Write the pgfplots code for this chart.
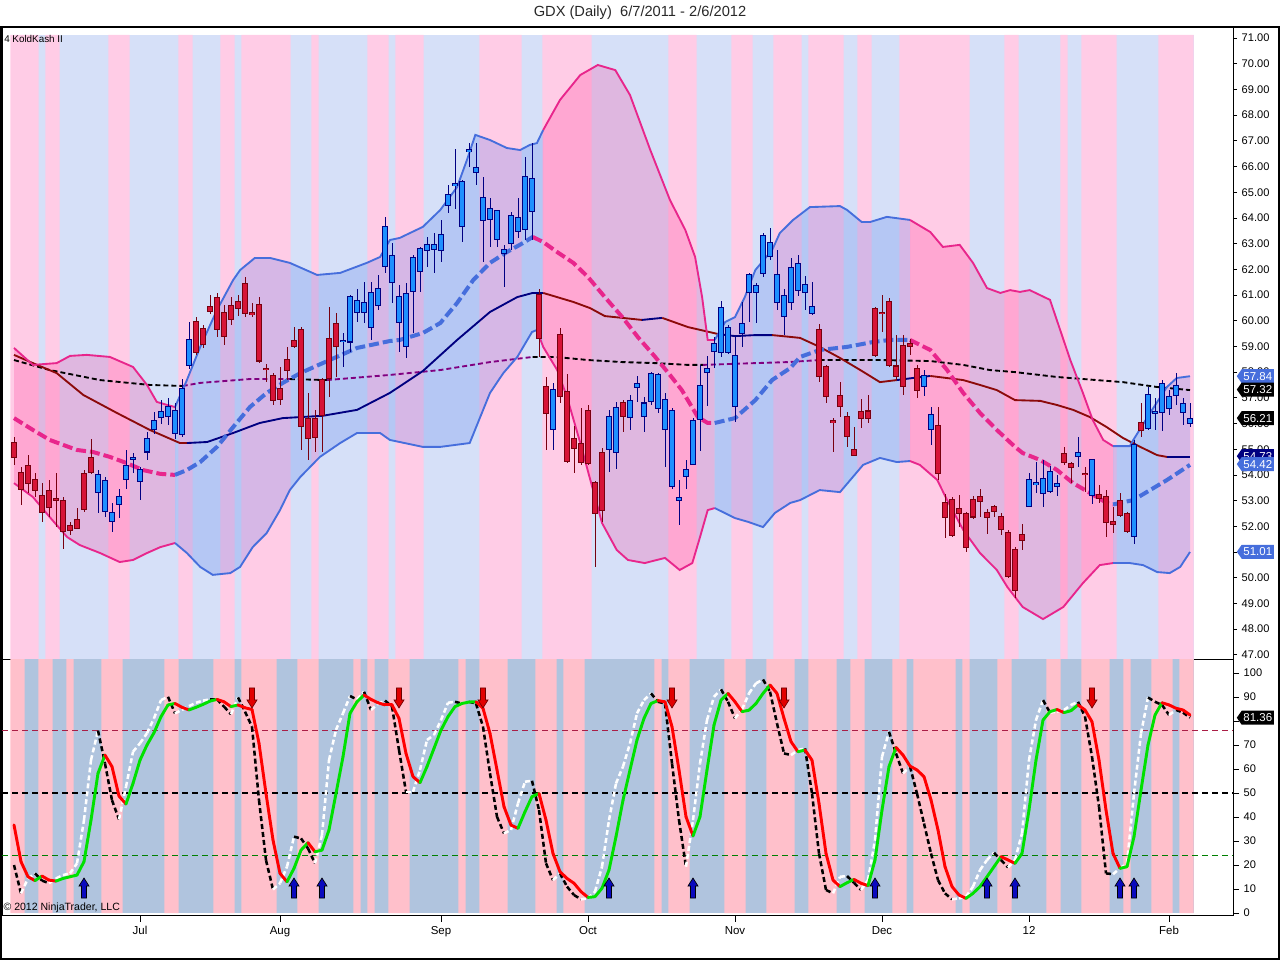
\documentclass[border=0pt]{standalone}
\usepackage{pgfplots}
\pgfplotsset{compat=1.18}
\usepackage{pgfplotstable}
\usepgfplotslibrary{fillbetween}
\usetikzlibrary{shapes.symbols}
\usepackage{fontspec}
\setmainfont{Liberation Sans}

\definecolor{upink}{RGB}{255,204,230}
\definecolor{ublue}{RGB}{214,224,248}
\definecolor{lpink}{RGB}{255,192,203}
\definecolor{lblue}{RGB}{176,196,222}
\definecolor{bpink}{RGB}{232,38,140}
\definecolor{bblue}{RGB}{70,110,220}
\definecolor{fpink}{RGB}{255,40,140}
\definecolor{fblue}{RGB}{50,100,230}
\definecolor{madred}{RGB}{140,10,10}
\definecolor{manavy}{RGB}{0,0,128}
\definecolor{mapurple}{RGB}{128,0,128}
\definecolor{cred}{RGB}{215,20,55}
\definecolor{credo}{RGB}{120,0,15}
\definecolor{cblue}{RGB}{30,144,255}
\definecolor{cblueo}{RGB}{0,0,130}
\definecolor{refred}{RGB}{170,30,70}
\definecolor{refgreen}{RGB}{0,128,0}

\pgfdeclareplotmark{uparr}{%
  \pgfpathmoveto{\pgfqpoint{-1.9pt}{0pt}}%
  \pgfpathlineto{\pgfqpoint{1.9pt}{0pt}}%
  \pgfpathlineto{\pgfqpoint{1.9pt}{9pt}}%
  \pgfpathlineto{\pgfqpoint{3.75pt}{9pt}}%
  \pgfpathlineto{\pgfqpoint{0pt}{15pt}}%
  \pgfpathlineto{\pgfqpoint{-3.75pt}{9pt}}%
  \pgfpathlineto{\pgfqpoint{-1.9pt}{9pt}}%
  \pgfpathclose
  \pgfusepathqfillstroke}
\pgfdeclareplotmark{dnarr}{%
  \pgfpathmoveto{\pgfqpoint{-1.9pt}{0pt}}%
  \pgfpathlineto{\pgfqpoint{1.9pt}{0pt}}%
  \pgfpathlineto{\pgfqpoint{1.9pt}{-9pt}}%
  \pgfpathlineto{\pgfqpoint{3.75pt}{-9pt}}%
  \pgfpathlineto{\pgfqpoint{0pt}{-15pt}}%
  \pgfpathlineto{\pgfqpoint{-3.75pt}{-9pt}}%
  \pgfpathlineto{\pgfqpoint{-1.9pt}{-9pt}}%
  \pgfpathclose
  \pgfusepathqfillstroke}

\tikzset{callout/.style={shape=signal, signal to=west, signal pointer angle=110, fill=#1, draw=none, text=white,
  font=\fontsize{8.6pt}{9pt}\selectfont, inner xsep=1.3pt, inner ysep=1pt, minimum height=10.5pt, anchor=west}}

% ---------------- candles ----------------
\pgfplotstableread{
i T B H L
0 55.26 54.68 55.48 54.38
1 54.10 53.45 54.32 52.83
2 54.36 53.67 54.77 53.28
3 53.82 53.41 54.06 53.15
4 53.20 52.54 53.67 52.15
5 53.40 52.74 53.80 52.37
6 53.07 53.03 54.06 51.98
7 52.98 51.81 53.15 51.10
8 52.01 51.84 52.18 51.66
9 52.27 51.94 52.70 51.92
10 54.03 52.67 54.19 52.57
11 54.68 54.10 55.38 54.03
26 59.96 58.77 60.15 58.66
27 59.70 59.09 59.83 58.92
28 60.54 60.35 61.00 60.28
29 60.89 59.66 61.06 59.38
30 60.32 59.38 60.61 59.05
31 60.58 60.05 60.93 59.83
32 60.74 60.50 61.00 60.18
33 61.45 60.28 61.71 60.15
34 60.30 60.26 60.67 60.15
35 60.61 58.44 60.93 58.34
36 58.15 58.12 58.30 57.62
37 57.85 56.89 57.95 56.72
38 57.37 56.94 58.21 56.72
39 58.47 58.08 58.99 57.69
40 59.21 59.01 59.77 58.92
41 59.64 55.88 59.77 54.97
42 56.20 55.42 57.17 54.58
43 56.20 55.45 56.53 54.90
44 57.69 56.33 57.76 54.90
45 59.31 57.76 60.55 57.04
46 59.87 58.99 60.31 57.82
75 61.03 59.31 61.22 58.60
76 57.43 56.40 57.82 54.97
78 59.44 57.04 59.70 56.79
79 57.24 54.52 57.93 54.45
80 55.42 55.03 55.90 54.09
81 55.20 54.48 56.59 54.39
82 56.49 54.45 56.72 54.39
83 53.71 52.51 53.78 50.43
84 54.88 52.61 55.03 52.18
87 56.81 56.29 56.92 55.68
115 59.64 57.85 59.87 57.62
116 58.21 57.07 58.27 56.78
117 56.10 56.05 56.20 54.90
118 57.07 56.68 57.60 56.26
119 56.26 55.49 56.46 55.10
120 54.97 54.77 55.87 54.77
121 56.46 56.20 56.95 55.81
122 56.48 56.22 57.11 56.03
123 60.48 58.66 60.54 58.60
124 60.33 60.30 61.00 59.57
125 60.74 58.27 60.87 58.21
126 58.23 57.82 59.44 57.69
127 59.01 57.43 59.44 57.10
128 59.09 58.99 59.27 58.66
129 58.14 57.30 58.27 56.98
132 55.90 54.06 56.65 53.80
133 52.93 52.37 53.25 51.53
134 53.02 51.66 53.15 51.60
135 52.67 52.50 53.22 51.98
136 52.50 51.17 52.57 51.01
137 53.05 52.37 53.18 52.30
138 53.15 52.96 53.44 52.37
139 52.54 52.37 52.66 51.72
140 52.76 52.57 52.83 52.37
141 52.37 51.88 52.50 51.66
142 51.76 50.04 51.85 49.97
143 51.10 49.52 51.20 49.20
144 51.66 51.44 52.09 51.08
150 54.81 54.49 55.07 54.38
151 54.45 54.29 54.51 53.67
153 54.06 54.03 54.32 53.35
155 53.24 53.09 53.61 52.89
156 53.15 52.14 53.41 51.60
157 52.18 52.09 52.76 51.73
158 52.99 52.41 53.28 52.37
159 52.50 51.79 52.57 51.73
161 56.03 55.75 56.78 55.49
}\redtab

\pgfplotstableread{
i T B H L
12 54.01 53.32 54.19 52.53
13 53.77 52.59 53.93 52.37
14 52.54 52.20 52.89 51.79
15 53.15 52.85 53.44 52.31
16 54.36 53.82 54.97 53.47
17 54.68 54.60 54.84 54.06
18 54.21 53.76 54.32 53.02
19 55.42 54.90 55.68 54.58
20 56.11 55.77 56.46 55.61
21 56.46 56.26 56.91 56.00
22 56.65 56.29 56.98 55.94
23 56.50 55.61 56.78 55.38
24 57.37 55.58 57.75 55.49
25 59.27 58.27 59.96 58.14
47 59.23 59.19 59.51 58.21
48 60.93 59.18 61.00 58.80
49 60.78 60.31 61.22 59.96
50 60.70 60.31 61.52 59.90
51 61.09 59.74 61.52 59.25
52 61.26 60.61 61.78 60.42
53 63.66 62.10 64.02 61.84
54 62.53 61.49 63.01 60.68
55 60.93 59.94 61.39 58.79
56 61.06 59.00 61.45 58.54
57 62.47 61.13 62.56 59.51
58 62.79 61.91 62.88 61.13
59 62.97 62.75 63.27 62.10
60 62.95 62.79 63.40 61.84
61 63.36 62.75 63.92 62.30
62 64.89 64.50 65.28 64.18
63 65.32 65.26 66.67 64.35
64 65.41 63.66 65.47 63.07
65 66.64 66.60 66.90 66.00
66 65.95 65.77 66.93 65.28
67 64.80 63.92 65.60 62.30
68 64.36 63.94 64.76 62.85
69 64.27 63.18 64.31 62.88
70 62.78 62.62 62.95 61.32
71 64.10 63.01 64.24 62.75
72 64.02 63.49 64.76 63.20
73 65.60 63.57 66.38 63.14
74 65.54 64.27 66.90 63.14
77 57.30 55.79 57.56 54.97
85 56.27 55.01 56.53 54.13
86 56.63 54.88 56.85 54.22
88 56.89 56.24 57.11 55.75
89 57.54 57.41 57.85 56.85
90 56.79 56.29 57.02 55.66
91 57.95 56.85 58.02 56.72
92 57.89 56.59 57.98 56.42
93 56.94 55.77 57.17 54.30
94 56.50 53.54 56.59 53.44
95 53.13 53.02 53.80 52.05
96 54.19 53.93 54.58 53.44
97 56.10 54.41 56.23 54.39
98 57.46 56.16 58.28 54.94
99 58.15 57.99 58.63 56.68
100 59.12 58.80 59.38 58.15
101 60.52 58.77 60.78 58.60
102 59.73 58.77 59.83 58.70
103 58.64 56.68 59.38 56.07
104 59.90 59.51 60.74 58.96
105 61.78 61.10 61.84 59.96
106 61.35 61.10 61.45 59.92
107 63.30 61.84 63.40 61.71
108 63.04 62.52 63.60 62.36
109 61.78 60.72 62.75 60.42
110 60.97 60.18 61.22 59.44
111 62.05 60.72 62.45 60.40
112 62.20 61.19 62.55 60.95
113 61.39 61.09 61.75 60.41
114 60.54 60.28 61.52 60.22
130 57.85 57.46 58.08 57.07
131 56.33 55.77 56.65 55.16
145 53.83 52.79 54.06 52.74
146 53.70 53.63 54.51 53.28
147 53.87 53.28 54.58 52.76
148 54.12 53.35 54.35 53.28
149 53.67 53.57 53.99 53.18
152 54.88 54.71 55.46 54.32
154 54.58 53.22 54.62 52.87
160 55.16 51.60 55.36 51.30
162 57.11 55.81 57.43 55.75
163 56.47 56.40 56.98 55.75
164 57.54 56.42 57.69 55.72
165 57.04 56.59 57.30 56.33
166 57.46 57.11 57.95 56.72
167 56.78 56.43 56.98 55.94
168 56.20 56.00 56.78 55.88
}\bluetab

% ---------------- bands and averages ----------------
\pgfplotstableread{
i p
0 58.94
2.7 58.28
6.1 58.35
8 58.63
10.4 58.67
13.7 58.59
17 58.20
19 57.50
20.4 56.84
21.9 56.72
23 56.64
24.7 57.69
26.6 58.98
29 60.42
31.3 61.58
32.3 61.97
34.4 62.44
36.6 62.44
39.4 62.25
43.3 61.78
46.6 61.86
50.4 62.25
52.3 62.48
53.7 63.14
55.1 63.22
58.4 63.65
60.9 64.31
63.3 65.20
64.7 66.25
65.9 67.23
68 67.03
70.4 66.72
72.3 66.64
73.7 66.84
74.7 66.91
75.6 67.42
78 68.59
80.9 69.56
83.4 69.95
85.9 69.75
88 68.78
90.9 66.64
93.7 64.70
95.9 63.53
97.3 62.48
98.3 60.92
99.1 59.25
100.1 59.25
101.6 59.95
103 60.14
104.4 60.92
105.9 61.97
108.3 62.75
109.4 63.41
111.3 63.92
113.7 64.42
118 64.46
119 64.31
121.1 63.84
122.3 63.84
124.7 64.04
128 63.92
130.9 63.45
132.7 62.87
135.1 62.95
137 62.25
139 61.27
140.9 61.08
142.3 61.19
143.7 61.12
145.1 61.19
148 60.81
150.9 58.47
152.7 57.19
154.1 56.14
155.6 55.36
157 55.12
159.4 55.12
159.9 55.36
162.3 56.41
164.7 57.42
166.1 57.77
168 57.84
}\Utab

\pgfplotstableread{
i p
0 53.68
2.7 53.14
5.1 52.36
7.6 51.58
9.4 51.27
12.3 50.96
15.1 50.61
17 50.69
19 50.96
20.9 51.19
23 51.35
24.7 50.96
26.6 50.42
28.4 50.11
30.9 50.18
32.3 50.42
34.1 51.19
36.1 51.74
38 52.63
39.4 53.41
40.9 53.92
43.7 54.70
46.6 55.24
49 55.63
52.3 55.63
53.7 55.36
55.1 55.28
58.4 55.09
60.9 55.09
65.1 55.24
66.6 56.25
68 57.19
69.9 57.96
71.9 58.59
74 59.56
74.7 59.64
75.6 58.98
77.6 58.08
79 57.03
80.9 55.24
84 52.13
86.1 51.08
87.7 50.69
90.1 50.57
93 50.77
95.1 50.30
96.9 50.57
98 51.58
99.1 52.63
100.1 52.71
103 52.32
104.9 52.17
107 51.97
108.7 52.52
110.9 52.91
112.3 53.02
115.1 53.41
118 53.33
121.3 54.39
123.7 54.66
126.1 54.50
128 54.54
129.4 54.39
131.9 53.80
133.3 53.02
135.6 51.86
138 50.96
140.4 50.30
141.9 49.64
144.1 48.86
147 48.39
149.9 48.86
152.7 49.79
155.1 50.49
157 50.57
159.4 50.57
161.3 50.49
163.3 50.22
165.1 50.18
166.6 50.42
168 51.00
}\Ltab

\pgfplotstableread{
i p
0 56.21
2.7 55.75
5.1 55.36
9 54.97
11.3 54.89
13.7 54.70
16.1 54.46
18.4 54.19
20.9 54.04
23 54.00
24.7 54.19
26.6 54.50
29 55.09
31.3 55.86
33.7 56.64
36.1 57.19
38.4 57.58
40.9 57.96
44.1 58.35
49 58.94
53.7 59.21
55.1 59.25
58.4 59.52
60.9 59.91
63.3 60.69
65.6 61.58
68 62.25
70.4 62.67
72.7 63.02
74.1 63.26
75.6 63.06
77.6 62.67
79.9 62.25
82 61.70
84.4 60.92
86.9 60.14
89.1 59.37
91.6 58.59
93.7 57.89
95.4 57.30
97.7 56.25
99.1 56.02
100.1 56.02
103 56.21
105.9 56.91
108.3 57.69
110.9 58.16
112.3 58.59
115.1 58.86
119 58.98
122.7 59.17
125.1 59.25
128 59.25
130.9 58.86
133.3 58.08
135.6 57.19
138 56.41
140.4 55.75
143 55.09
144.1 54.85
146.6 54.58
149 54.19
151.3 53.68
153.7 53.30
156.1 52.91
157 52.85
159.9 53.02
162.3 53.41
164.7 53.80
168 54.39
}\Mtab

\pgfplotstableread{
i p
0 58.67
2.7 58.35
6.1 57.96
9.9 57.11
14.7 56.41
19.4 55.75
23.7 55.24
24.7 55.24
27.6 55.28
31.3 55.63
35.1 56.02
38.4 56.21
40.9 56.25
44.1 56.30
49 56.53
53.7 57.19
58.4 58.04
63.3 59.25
68 60.34
71.9 60.92
74.1 61.08
75.6 61.08
79.9 60.73
82.3 60.49
84.4 60.18
86.9 60.11
89.7 60.03
92.6 60.11
96.3 59.75
98.7 59.60
100.6 59.48
103 59.40
105.9 59.44
108.3 59.44
110.9 59.37
112.3 59.33
115.1 58.98
118 58.55
120.9 58.08
123.7 57.61
126.1 57.69
128.4 57.77
130.9 57.85
135.6 57.69
138 57.50
140.4 57.30
143 56.91
146.6 56.88
149 56.72
151.3 56.53
153.7 56.25
156.1 55.86
158.4 55.44
160.9 55.09
163.3 54.77
164.7 54.70
168 54.70
}\Stab

\pgfplotstableread{
i p
0 58.47
5.1 58.08
12.3 57.69
19.4 57.50
24.1 57.46
26.6 57.58
33.7 57.73
39.4 57.73
44.7 57.69
53.7 57.89
60.9 58.08
68 58.39
74.1 58.59
77.3 58.59
82 58.47
86.9 58.39
91.6 58.35
96.3 58.28
98.4 58.28
105.9 58.35
110.6 58.39
115.1 58.47
123.7 58.47
130.9 58.43
135.6 58.28
139.4 58.08
143 58.00
149 57.81
158.4 57.61
163.3 57.42
168 57.30
}\Atab

% ---------------- oscillator ----------------
\pgfplotstableread{
i D c
0 36.7 0
1 21.4 0
2 15.1 0
3 13.5 1
4 15.4 0
5 13.7 0
6 13.3 1
7 14.4 1
8 15.1 1
9 15.8 1
10 21.4 1
11 38.7 1
12 58.2 1
13 65.8 0
14 61 0
15 48.7 0
16 45.4 1
17 54 1
18 63.7 1
19 70 1
20 75.1 1
21 81.8 1
22 86.7 1
23 87.3 0
24 85.7 0
25 84.6 1
26 85.7 1
27 86.9 1
28 88.3 1
29 89 0
30 88 0
31 86 1
32 86.7 0
33 85.5 0
34 84.8 0
35 70.7 0
36 49.8 0
37 30.4 0
38 16.5 0
39 13.0 1
40 18.6 1
41 26.2 1
42 29.3 0
43 25.5 1
44 26.2 1
45 34.6 1
46 49.8 1
47 65.1 1
48 83.2 1
49 88 1
50 90.8 0
51 89 0
52 87.6 0
53 86.7 0
54 86.7 0
55 81.1 0
56 66.5 0
57 56.8 0
58 54.3 1
59 61 1
60 68.6 1
61 76.2 1
62 81.8 1
63 86 1
64 87.3 1
65 87.9 1
66 88 0
67 85.3 0
68 74.8 0
69 59.6 0
70 44.3 0
71 36.6 0
72 35.3 1
73 42.2 1
74 48.5 1
75 49.8 0
76 38.7 0
77 24.8 0
78 17.2 0
79 14.4 0
80 12.4 0
81 8.9 0
82 6.5 1
83 6.8 1
84 10.3 1
85 17.9 1
86 31.8 1
87 47 1
88 59.6 1
89 72.1 1
90 81.1 1
91 87.3 1
92 88.5 0
93 88 0
94 77.6 0
95 59.6 0
96 40.1 0
97 32.1 1
98 40.1 1
99 59.6 1
100 78.3 1
101 88.7 1
102 91.5 0
103 88 0
104 83.9 1
105 84.5 1
106 87.3 1
107 91.5 1
108 95 0
109 91.5 0
110 81.1 0
111 71.4 0
112 67.2 1
113 67.9 0
114 63.7 0
115 45.7 0
116 24.8 0
117 13.7 0
118 11 1
119 12.6 1
120 14 0
121 12.4 0
122 11.4 1
123 22.1 1
124 42.9 1
125 61 1
126 69 0
127 65.8 0
128 61.2 0
129 59.6 0
130 56.8 0
131 47.1 0
132 34.6 0
133 19.3 0
134 11 0
135 7.5 0
136 6.1 1
137 8.2 1
138 11 1
139 15.1 1
140 19.3 1
141 23.5 0
142 22.1 0
143 20.7 1
144 24.8 1
145 42.9 1
146 63.7 1
147 80.4 1
148 83.9 1
149 84.8 0
150 83.5 1
151 84.3 1
152 86.7 0
153 84.6 0
154 79.7 0
155 63.7 0
156 42.9 0
157 24.8 0
158 18.6 1
159 19.3 1
160 31.8 1
161 51.2 1
162 70 1
163 82.5 1
164 87.6 0
165 86.7 0
166 85.3 0
167 84.6 0
168 82.5 0
}\Dtab

\pgfplotstableread{
i K c
0 20 2
1 8.2 3
2 14.4 3
3 16.5 2
4 13.5 2
5 12.4 3
6 14.4 3
7 15.8 3
8 16.5 3
9 20.7 3
10 38.7 3
11 63.7 3
12 76 2
13 62.3 2
14 47 2
15 39 3
16 52.6 3
17 67.2 3
18 70.7 3
19 74.9 3
20 81.1 3
21 88.7 3
22 90.1 2
23 83.2 3
24 84.6 3
25 86.2 3
26 87.6 3
27 88.5 3
28 89 2
29 89 2
30 86 2
31 82.8 3
32 89.8 2
33 83.9 2
34 77.6 2
35 47 2
36 22 2
37 9.8 3
38 12.4 3
39 19.3 3
40 31.8 2
41 31.1 2
42 26.9 2
43 20.7 3
44 32.5 3
45 63.7 3
46 76.3 3
47 83.2 3
48 90.4 2
49 89 3
50 92.2 2
51 84.6 3
52 87.1 3
53 88.5 2
54 86 2
55 67.9 2
56 50.5 3
57 50.5 3
58 59.6 3
59 72.1 3
60 74.2 3
61 80.4 3
62 87.6 3
63 88 2
64 87.3 3
65 88 2
66 87.3 2
67 77.6 2
68 58.2 2
69 40.1 2
70 33.2 3
71 34.6 3
72 45.7 3
73 54.7 3
74 55.1 2
75 42.9 2
76 20.7 2
77 13.7 3
78 16.5 2
79 11 2
80 7.5 2
81 5.7 3
82 6.1 3
83 8.9 3
84 19.3 3
85 38.7 3
86 54 3
87 61 3
88 70.7 3
89 83.2 3
90 88.7 3
91 91.5 2
92 88 2
93 87.3 2
94 62.3 2
95 38.7 2
96 19.3 3
97 38.7 3
98 62.3 3
99 80.4 3
100 90.1 3
101 93.2 2
102 88 2
103 81.1 3
104 84.8 3
105 91.5 3
106 95.7 3
107 97.3 2
108 92.2 2
109 79 2
110 66.5 2
111 65.8 3
112 67.9 3
113 68.6 2
114 49.8 2
115 24.8 2
116 9.6 2
117 8.2 3
118 15.1 3
119 15.4 2
120 12.6 2
121 9.6 3
122 13.7 3
123 30.4 3
124 65.1 3
125 75.5 2
126 66.5 2
127 58.2 3
128 61 2
129 49.8 2
130 37.3 2
131 24.8 2
132 13.7 2
133 8.2 2
134 5.7 3
135 6.1 3
136 6.8 3
137 11 3
138 17.9 3
139 22.1 3
140 25.1 2
141 22.1 2
142 19 3
143 22.1 3
144 33.2 3
145 63.7 3
146 80.4 3
147 88.7 2
148 83.5 3
149 83.9 3
150 84.6 3
151 86.7 3
152 88 2
153 81.8 2
154 65.1 2
155 44.3 2
156 16.5 2
157 16.2 3
158 18.6 3
159 20.7 3
160 49.8 3
161 74.8 3
162 89.8 2
163 88 2
164 86.7 2
165 82.5 3
166 84.6 2
167 83.5 2
168 81.4 2
}\Ktab

\pgfplotsset{
  /pgf/number format/assume math mode=true,
  every axis/.append style={
    scale only axis, width=923.25pt, xmin=-1.7143, xmax=174.143,
    axis line style={black, line width=0.6pt},
    tick label style={font=\fontsize{8.3pt}{9pt}\selectfont},
    tick align=outside, major tick length=3pt,
    ytick pos=right, yticklabel pos=right,
    tick style={black, line width=0.5pt},
  },
  bandln/.style={line width=1.4pt},
  midln/.style={line width=3pt, dash pattern=on 7.5pt off 3pt},
  wick/.style={draw=none, mark=none, forget plot, error bars/.cd, y dir=both, y explicit, error mark=none,
     error bar style={draw=#1, line width=0.75pt}},
  body/.style 2 args={draw=none, mark=none, forget plot, error bars/.cd, y dir=both, y explicit, error mark=none,
     error bar style={draw=#1, line width=#2}},
}

\begin{document}
\begin{tikzpicture}

% ================= upper panel =================
\begin{axis}[
  set layers,
  at={(1.5pt,226.5pt)}, anchor=south west, height=474pt,
  ymin=46.837, ymax=71.428,
  xtick=\empty,
  ytick={47,48,...,71},
  yticklabel style={/pgf/number format/.cd, fixed, fixed zerofill, precision=2},
]
% background stripes
\addplot[on layer=axis background, fill=ublue, draw=none, forget plot] coordinates {(-0.5,71.117) (168.5,71.117)} \closedcycle;
\addplot[on layer=axis background, ybar, bar width=1.06, bar shift=0pt, fill=upink, draw=none, forget plot]
  table[row sep=\\, x=x, y expr=71.117]{x\\0\\1\\2\\3\\5\\6\\14\\15\\16\\24\\25\\30\\31\\33\\34\\35\\36\\37\\38\\39\\43\\51\\52\\53\\55\\56\\57\\58\\67\\68\\69\\70\\71\\72\\76\\77\\78\\79\\80\\81\\82\\94\\95\\96\\97\\103\\104\\105\\109\\110\\111\\112\\114\\115\\116\\117\\118\\121\\122\\127\\128\\129\\130\\131\\132\\133\\134\\135\\136\\142\\143\\150\\153\\154\\155\\156\\157\\164\\165\\166\\167\\168\\};

% bands (invisible paths for filling), per trend segment
\addplot[draw=none, name path=U1, forget plot, restrict x to domain=-1:23.01] table[x=i,y=p]{\Utab};
\addplot[draw=none, name path=L1, forget plot, restrict x to domain=-1:23.01] table[x=i,y=p]{\Ltab};
\addplot[draw=none, name path=U2, forget plot, restrict x to domain=22.99:75.61] table[x=i,y=p]{\Utab};
\addplot[draw=none, name path=L2, forget plot, restrict x to domain=22.99:75.61] table[x=i,y=p]{\Ltab};
\addplot[draw=none, name path=U3, forget plot, restrict x to domain=75.59:100.11] table[x=i,y=p]{\Utab};
\addplot[draw=none, name path=L3, forget plot, restrict x to domain=75.59:100.11] table[x=i,y=p]{\Ltab};
\addplot[draw=none, name path=U4, forget plot, restrict x to domain=100.09:128.01] table[x=i,y=p]{\Utab};
\addplot[draw=none, name path=L4, forget plot, restrict x to domain=100.09:128.01] table[x=i,y=p]{\Ltab};
\addplot[draw=none, name path=U5, forget plot, restrict x to domain=127.99:157.01] table[x=i,y=p]{\Utab};
\addplot[draw=none, name path=L5, forget plot, restrict x to domain=127.99:157.01] table[x=i,y=p]{\Ltab};
\addplot[draw=none, name path=U6, forget plot, restrict x to domain=156.99:169] table[x=i,y=p]{\Utab};
\addplot[draw=none, name path=L6, forget plot, restrict x to domain=156.99:169] table[x=i,y=p]{\Ltab};
\addplot[fill=fpink, fill opacity=0.22, draw=none] fill between[of=U1 and L1];
\addplot[fill=fblue, fill opacity=0.20, draw=none] fill between[of=U2 and L2];
\addplot[fill=fpink, fill opacity=0.22, draw=none] fill between[of=U3 and L3];
\addplot[fill=fblue, fill opacity=0.20, draw=none] fill between[of=U4 and L4];
\addplot[fill=fpink, fill opacity=0.22, draw=none] fill between[of=U5 and L5];
\addplot[fill=fblue, fill opacity=0.20, draw=none] fill between[of=U6 and L6];

% long moving average (dashed black / purple)
\addplot[black, line width=1.4pt, dash pattern=on 3.75pt off 2.25pt, restrict x to domain=-1:24.11] table[x=i,y=p]{\Atab};
\addplot[mapurple, line width=1.4pt, dash pattern=on 3.75pt off 2.25pt, restrict x to domain=24.09:39.41] table[x=i,y=p]{\Atab};
\addplot[black, line width=1.4pt, dash pattern=on 3.75pt off 2.25pt, restrict x to domain=39.39:44.71] table[x=i,y=p]{\Atab};
\addplot[mapurple, line width=1.4pt, dash pattern=on 3.75pt off 2.25pt, restrict x to domain=44.69:74.11] table[x=i,y=p]{\Atab};
\addplot[black, line width=1.4pt, dash pattern=on 3.75pt off 2.25pt, restrict x to domain=74.09:98.41] table[x=i,y=p]{\Atab};
\addplot[mapurple, line width=1.4pt, dash pattern=on 3.75pt off 2.25pt, restrict x to domain=98.39:115.11] table[x=i,y=p]{\Atab};
\addplot[black, line width=1.4pt, dash pattern=on 3.75pt off 2.25pt, restrict x to domain=115.09:169] table[x=i,y=p]{\Atab};

% solid moving average (dark red / navy)
\addplot[madred, line width=1.4pt, restrict x to domain=-1:24.71] table[x=i,y=p]{\Stab};
\addplot[manavy, line width=1.4pt, restrict x to domain=24.69:75.61] table[x=i,y=p]{\Stab};
\addplot[madred, line width=1.4pt, restrict x to domain=75.59:89.71] table[x=i,y=p]{\Stab};
\addplot[manavy, line width=1.4pt, restrict x to domain=89.69:92.61] table[x=i,y=p]{\Stab};
\addplot[madred, line width=1.4pt, restrict x to domain=92.59:100.61] table[x=i,y=p]{\Stab};
\addplot[manavy, line width=1.4pt, restrict x to domain=100.59:108.31] table[x=i,y=p]{\Stab};
\addplot[madred, line width=1.4pt, restrict x to domain=108.29:126.11] table[x=i,y=p]{\Stab};
\addplot[manavy, line width=1.4pt, restrict x to domain=126.09:130.91] table[x=i,y=p]{\Stab};
\addplot[madred, line width=1.4pt, restrict x to domain=130.89:164.71] table[x=i,y=p]{\Stab};
\addplot[manavy, line width=1.4pt, restrict x to domain=164.69:169] table[x=i,y=p]{\Stab};

% band lines (upper)
\addplot[bpink, bandln, restrict x to domain=-1:23.01] table[x=i,y=p]{\Utab};
\addplot[bblue, bandln, restrict x to domain=22.99:75.61] table[x=i,y=p]{\Utab};
\addplot[bpink, bandln, restrict x to domain=75.59:100.11] table[x=i,y=p]{\Utab};
\addplot[bblue, bandln, restrict x to domain=100.09:128.01] table[x=i,y=p]{\Utab};
\addplot[bpink, bandln, restrict x to domain=127.99:157.01] table[x=i,y=p]{\Utab};
\addplot[bblue, bandln, restrict x to domain=156.99:169] table[x=i,y=p]{\Utab};
% band lines (lower)
\addplot[bpink, bandln, restrict x to domain=-1:23.01] table[x=i,y=p]{\Ltab};
\addplot[bblue, bandln, restrict x to domain=22.99:74.71] table[x=i,y=p]{\Ltab};
\addplot[bpink, bandln, restrict x to domain=74.69:100.11] table[x=i,y=p]{\Ltab};
\addplot[bblue, bandln, restrict x to domain=100.09:128.01] table[x=i,y=p]{\Ltab};
\addplot[bpink, bandln, restrict x to domain=127.99:157.01] table[x=i,y=p]{\Ltab};
\addplot[bblue, bandln, restrict x to domain=156.99:169] table[x=i,y=p]{\Ltab};
% middle band (thick dashed)
\addplot[bpink, midln, restrict x to domain=-1:23.01] table[x=i,y=p]{\Mtab};
\addplot[bblue, midln, restrict x to domain=22.99:74.11] table[x=i,y=p]{\Mtab};
\addplot[bpink, midln, restrict x to domain=74.09:100.11] table[x=i,y=p]{\Mtab};
\addplot[bblue, midln, restrict x to domain=100.09:128.01] table[x=i,y=p]{\Mtab};
\addplot[bpink, midln, restrict x to domain=127.99:157.01] table[x=i,y=p]{\Mtab};
\addplot[bblue, midln, restrict x to domain=156.99:169] table[x=i,y=p]{\Mtab};

% candles: wicks
\addplot[wick=credo]
  table[x=i, y expr={(\thisrow{H}+\thisrow{L})/2}, y error expr={(\thisrow{H}-\thisrow{L})/2}]{\redtab};
\addplot[wick=cblueo]
  table[x=i, y expr={(\thisrow{H}+\thisrow{L})/2}, y error expr={(\thisrow{H}-\thisrow{L})/2}]{\bluetab};
% candles: body outlines
\addplot[body={credo}{4.4pt}]
  table[x=i, y expr={(\thisrow{T}+\thisrow{B})/2}, y error expr={(\thisrow{T}-\thisrow{B})/2+0.028}]{\redtab};
\addplot[body={cblueo}{4.4pt}]
  table[x=i, y expr={(\thisrow{T}+\thisrow{B})/2}, y error expr={(\thisrow{T}-\thisrow{B})/2+0.028}]{\bluetab};
% candles: body fills
\addplot[body={cred}{2.9pt}]
  table[x=i, y expr={(\thisrow{T}+\thisrow{B})/2}, y error expr={(\thisrow{T}-\thisrow{B})/2-0.012}]{\redtab};
\addplot[body={cblue}{2.9pt}]
  table[x=i, y expr={(\thisrow{T}+\thisrow{B})/2}, y error expr={(\thisrow{T}-\thisrow{B})/2-0.012}]{\bluetab};

\coordinate (cUp) at (axis cs:174.143,57.84);
\coordinate (cAm) at (axis cs:174.143,57.32);
\coordinate (cLast) at (axis cs:174.143,56.21);
\coordinate (cSm) at (axis cs:174.143,54.73);
\coordinate (cMid) at (axis cs:174.143,54.42);
\coordinate (cLo) at (axis cs:174.143,51.01);
\end{axis}

% ================= lower panel =================
\begin{axis}[
  at={(1.5pt,34.125pt)}, anchor=south west, height=192.375pt,
  ymin=-1.04, ymax=105.83,
  ytick={0,10,...,100},
  xtick={18,38,61,82,103,124,145,165},
  xticklabels={Jul,Aug,Sep,Oct,Nov,Dec,12,Feb},
  xtick pos=left, major tick length=4.5pt,
  xticklabel style={font=\fontsize{8.6pt}{9pt}\selectfont, yshift=-0.3pt},
  colormap={sto}{rgb255=(255,0,0) rgb255=(0,225,0) rgb255=(0,0,0) rgb255=(255,255,255)},
  point meta min=0, point meta max=3,
]
\addplot[fill=lblue, draw=none, forget plot] coordinates {(-0.5,106) (168.5,106)} \closedcycle;
\addplot[ybar, bar width=1.06, bar shift=0pt, fill=lpink, draw=none, forget plot]
  table[row sep=\\, x=x, y expr=106]{x\\0\\1\\4\\5\\8\\13\\14\\15\\22\\23\\29\\30\\31\\33\\34\\35\\36\\37\\41\\42\\43\\49\\51\\54\\55\\56\\64\\67\\68\\69\\70\\75\\76\\77\\79\\80\\81\\92\\94\\95\\96\\102\\103\\104\\108\\109\\110\\111\\114\\115\\116\\117\\120\\121\\126\\127\\129\\130\\131\\132\\133\\134\\136\\141\\142\\148\\149\\153\\154\\155\\156\\159\\163\\164\\165\\167\\168\\};
% reference levels
\addplot[refred, line width=1.1pt, dash pattern=on 4.5pt off 3pt, forget plot] coordinates {(-1.7143,76) (174.143,76)};
\addplot[black, line width=1.1pt, dash pattern=on 4.5pt off 3pt, forget plot] coordinates {(-1.7143,50) (174.143,50)};
\addplot[refgreen, line width=1.1pt, dash pattern=on 4.5pt off 3pt, forget plot] coordinates {(-1.7143,24) (174.143,24)};
% fast line (dashed, white rising / black falling)
\addplot[mesh, shader=flat corner, line width=1.9pt, dash pattern=on 3.75pt off 2.25pt, point meta=\thisrow{c}]
  table[x=i,y=K]{\Ktab};
% slow line (red falling / green rising)
\addplot[mesh, shader=flat corner, line width=2.2pt, line cap=round, point meta=\thisrow{c}]
  table[x=i,y=D]{\Dtab};
% signal arrows
\addplot[only marks, mark=uparr, mark options={fill={rgb,255:red,10;green,10;blue,190}, draw=black, line width=0.5pt}]
  coordinates {(10,6.25) (40,6.25) (44,6.25) (85,6.25) (97,6.25) (123,6.25) (139,6.25) (143,6.25) (158,6.25) (160,6.25)};
\addplot[only marks, mark=dnarr, mark options={fill={rgb,255:red,225;green,0;blue,0}, draw={rgb,255:red,110;green,0;blue,0}, line width=0.5pt}]
  coordinates {(34,93.75) (55,93.75) (67,93.75) (94,93.75) (110,93.75) (154,93.75)};
\coordinate (cOsc) at (axis cs:174.143,81.36);
\end{axis}

% value callouts
\node[callout=bblue, xshift=2.6pt] at (cUp) {57.84};
\node[callout=black, xshift=2.6pt] at (cAm) {57.32};
\node[callout=black, xshift=2.6pt] at (cLast) {56.21};
\node[callout=manavy, xshift=2.6pt] at (cSm) {54.73};
\node[callout=bblue, xshift=2.6pt] at (cMid) {54.42};
\node[callout=bblue, xshift=2.6pt] at (cLo) {51.01};
\node[callout=black, xshift=2.6pt] at (cOsc) {81.36};

% texts and frame
\node[font=\fontsize{11pt}{12pt}\selectfont, text={rgb,255:red,40;green,40;blue,40}] at (480pt,711pt) {GDX (Daily)\ \ 6/7/2011 - 2/6/2012};
\node[anchor=west, inner sep=0pt, font=\fontsize{7.4pt}{8pt}\selectfont] at (3pt,691.5pt) {4 KoldKash II};
\node[anchor=west, inner sep=0pt, font=\fontsize{7.9pt}{8.5pt}\selectfont] at (2.5pt,39.6pt) {© 2012 NinjaTrader, LLC};
\draw[black, line width=1.1pt] (0.75pt,1.5pt) rectangle (959.25pt,700.5pt);
\pgfresetboundingbox
\useasboundingbox (0,0) rectangle (960pt,720.75pt);
\end{tikzpicture}
\end{document}
